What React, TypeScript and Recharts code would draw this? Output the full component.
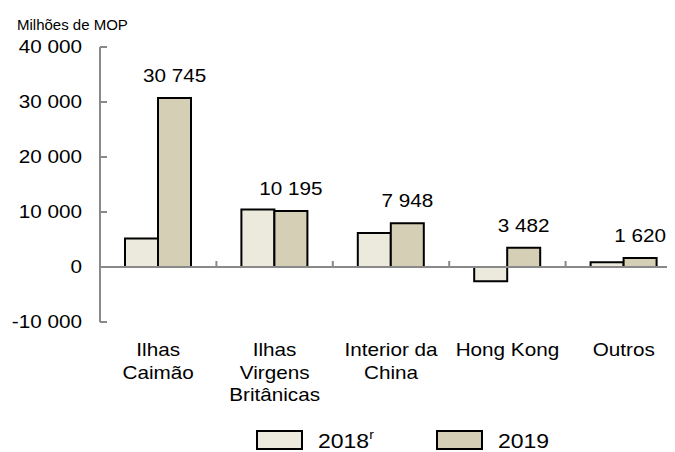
import React from "react";
import { BarChart, Bar, XAxis, YAxis, Legend, LabelList, ReferenceLine } from "recharts";

// Chart data
const categories = ["Ilhas\nCaimão", "Ilhas\nVirgens\nBritânicas", "Interior da\nChina", "Hong Kong", "Outros"];
const values2018 = [5200, 10450, 6200, -2600, 850];
const values2019 = [30745, 10195, 7948, 3482, 1620];
const yTicks = [-10000, 0, 10000, 20000, 30000, 40000];
const seriesNames = ["2018", "2019"];
const seriesMarks = ["r", ""]; // superscript after the legend name

const colors = ["#ECEADC", "#D5CFB6"];
const axisGrey = "#898989";
const font = "'Liberation Sans', Arial, sans-serif";
const stretch = 1.15; // the source text is a bit wider than plain Arial

const data = categories.map((name, i) => ({ name, v2018: values2018[i], v2019: values2019[i] }));

// thousands separated by a space, as in the source
const fmt = (v: number) => {
  const s = Math.abs(v).toString().replace(/\B(?=(\d{3})+(?!\d))/g, " ");
  return v < 0 ? "-" + s : s;
};

const YTick = ({ x, y, payload }: any) => (
  <g>
    <line x1={x + 18} x2={x + 25} y1={y} y2={y} stroke={axisGrey} strokeWidth={2} />
    <text
      transform={`translate(${x},${y}) scale(${stretch},1)`}
      textAnchor="end"
      dy="0.36em"
      fontSize={18}
      fontFamily={font}
      fill="#000"
    >
      {fmt(payload.value)}
    </text>
  </g>
);

const XTick = ({ x, y, payload }: any) => {
  const lines = String(payload.value).split("\n");
  return (
    <g transform={`translate(${x},${y})`}>
      {lines.map((l, i) => (
        <text
          key={i}
          transform={`translate(0,${34 + i * 22.5}) scale(${stretch},1)`}
          textAnchor="middle"
          fontSize={18}
          fontFamily={font}
          fill="#000"
        >
          {l}
        </text>
      ))}
    </g>
  );
};

// zero line with small upward ticks between categories
const ZeroLine = (props: any) => {
  const { x1, x2, y1 } = props;
  const step = (x2 - x1) / categories.length;
  return (
    <g>
      <line x1={x1} x2={x2} y1={y1} y2={y1} stroke={axisGrey} strokeWidth={2} />
      {categories.map((_, i) => (
        <line
          key={i}
          x1={x1 + step * (i + 1)}
          x2={x1 + step * (i + 1)}
          y1={y1}
          y2={y1 - 6}
          stroke={axisGrey}
          strokeWidth={2}
        />
      ))}
    </g>
  );
};

const ValueLabel = ({ x, y, width, value }: any) => (
  <text
    transform={`translate(${x + width / 2},${y - 16}) scale(${stretch},1)`}
    textAnchor="middle"
    fontSize={18}
    fontFamily={font}
    fill="#000"
  >
    {fmt(value)}
  </text>
);

const legendX = [249, 429];

const LegendContent = ({ payload }: any) => (
  <svg width={674} height={30} style={{ display: "block" }}>
    {(payload || []).map((p: any, i: number) => (
      <g key={i}>
        <rect x={legendX[i]} y={9} width={45} height={18} fill={p.color} stroke="#000" strokeWidth={2} />
        <text
          transform={`translate(${legendX[i] + 61},26) scale(${stretch},1)`}
          fontSize={20}
          fontFamily={font}
          fill="#000"
        >
          {p.value}
          {seriesMarks[i] ? (
            <tspan fontSize={12} dy={-9}>
              {seriesMarks[i]}
            </tspan>
          ) : null}
        </text>
      </g>
    ))}
  </svg>
);

export default function App() {
  return (
    <div style={{ position: "relative", width: 674, height: 444 }}>
      <style>{`body{overflow:hidden}`}</style>
      <div
        style={{
          position: "absolute",
          left: 9,
          top: 9,
          fontSize: 15,
          lineHeight: "15px",
          fontFamily: font,
          color: "#000",
          whiteSpace: "nowrap",
        }}
      >
        Milhões de MOP
      </div>
      <BarChart
        width={674}
        height={444}
        data={data}
        margin={{ top: 39, right: 0, left: 0, bottom: 0 }}
        barCategoryGap={25}
        barGap={0}
      >
        <XAxis
          dataKey="name"
          height={100}
          axisLine={false}
          tickLine={false}
          tickSize={0}
          tickMargin={0}
          interval={0}
          tick={<XTick />}
        />
        <YAxis
          width={92}
          domain={[-10000, 40000]}
          ticks={yTicks}
          axisLine={{ stroke: axisGrey, strokeWidth: 2 }}
          tickLine={false}
          tickSize={0}
          tickMargin={18}
          tick={<YTick />}
        />
        <Bar dataKey="v2018" name={seriesNames[0]} fill={colors[0]} stroke="#000" strokeWidth={2} isAnimationActive={false} />
        <Bar dataKey="v2019" name={seriesNames[1]} fill={colors[1]} stroke="#000" strokeWidth={2} isAnimationActive={false}>
          <LabelList dataKey="v2019" content={<ValueLabel />} />
        </Bar>
        <ReferenceLine y={0} shape={<ZeroLine />} />
        <Legend verticalAlign="bottom" height={30} content={<LegendContent />} />
      </BarChart>
    </div>
  );
}
